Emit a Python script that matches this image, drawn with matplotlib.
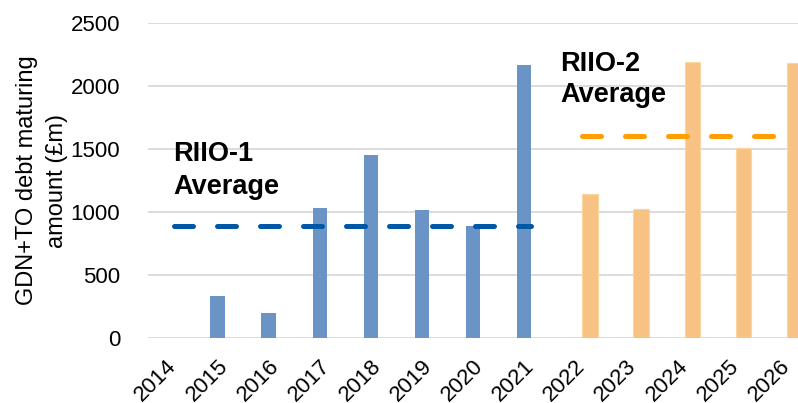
import matplotlib
matplotlib.use('Agg')
import matplotlib.pyplot as plt
import numpy as np

plt.rcParams['font.family'] = ['Liberation Sans', 'DejaVu Sans']

years = ['2014', '2015', '2016', '2017', '2018', '2019', '2020',
         '2021', '2022', '2023', '2024', '2025', '2026']

# RIIO-1 period (2014-2021), RIIO-2 period (2022-2026), GBP m
riio1_debt = [0, 333, 196, 1034, 1450, 1013, 886, 2164]
riio2_debt = [1145, 1021, 2193, 1508, 2185]
riio1_avg = 886
riio2_avg = 1606

yticks = [0, 500, 1000, 1500, 2000, 2500]

blue_bar = '#6a93c6'
orange_bar = '#f7c284'
blue_line = '#0057a6'
orange_line = '#ff9e00'

fig = plt.figure(figsize=(7.98, 4.03), dpi=100)
ax = fig.add_axes([148 / 798, 65 / 403, 650 / 798, 315 / 403])

x1 = np.arange(len(riio1_debt))
x2 = np.arange(len(riio1_debt), len(years))
bw = 0.28

ax.bar(x1 - bw / 2, riio1_debt, width=bw, color=blue_bar, zorder=2)
ax.bar(x2 + 0.15, riio2_debt, width=0.3, color=orange_bar,
       edgecolor='#fdd59f', linewidth=0.8, zorder=2)

# period averages as dashed lines
ax.plot([x1[0], x1[-1]], [riio1_avg, riio1_avg], color=blue_line, lw=3.6,
        linestyle=(0, (3.8, 4.8)), dash_capstyle='round', zorder=3)
ax.plot([x2[0], x2[-1]], [riio2_avg, riio2_avg], color=orange_line, lw=3.6,
        linestyle=(0, (3.8, 4.8)), dash_capstyle='round', zorder=3)

ax.text(0.0, 1562, 'RIIO-1\nAverage', fontsize=19.5, fontweight='bold',
        va='top', ha='left', linespacing=1.35)
ax.text(7.57, 2275, 'RIIO-2\nAverage', fontsize=19.5, fontweight='bold',
        va='top', ha='left', linespacing=1.25)

ax.set_xlim(-0.5, 12.22)
ax.set_ylim(0, 2500)
ax.set_yticks(yticks)
ax.set_xticks(np.arange(len(years)))
ax.set_xticklabels(years, rotation=45, ha='right', va='center',
                   rotation_mode='anchor')
ax.tick_params(axis='both', length=0, labelsize=16, colors='#000000')
ax.tick_params(axis='y', pad=20)
ax.tick_params(axis='x', pad=18)
ax.grid(axis='y', color='#d9d9d9', lw=1.3, zorder=0)
ax.set_axisbelow(True)
for s in ax.spines.values():
    s.set_visible(False)

ax.set_ylabel('GDN+TO debt maturing\namount (£m)', fontsize=17, labelpad=2,
              linespacing=1.45)

fig.savefig('out.png', dpi=100)
